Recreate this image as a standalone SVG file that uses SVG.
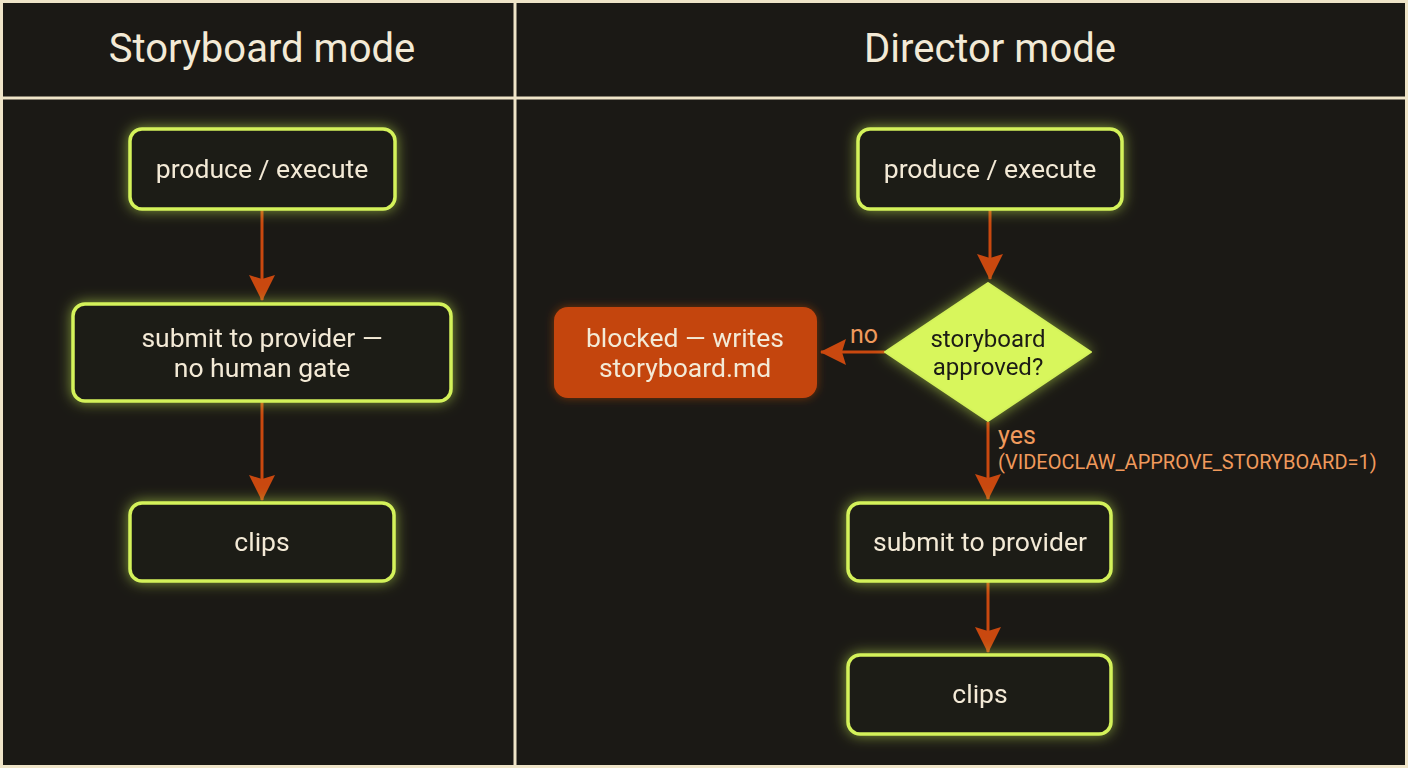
<svg xmlns="http://www.w3.org/2000/svg" width="1408" height="768" viewBox="0 0 1408 768">
<defs>
<filter id="glow" x="-20%" y="-30%" width="140%" height="160%">
<feGaussianBlur in="SourceAlpha" stdDeviation="7" result="b"/>
<feFlood flood-color="#c8f050" flood-opacity="0.6"/>
<feComposite in2="b" operator="in" result="g"/>
<feMerge><feMergeNode in="g"/><feMergeNode in="SourceGraphic"/></feMerge>
</filter>
<filter id="glowO" x="-20%" y="-30%" width="140%" height="160%">
<feGaussianBlur in="SourceAlpha" stdDeviation="5" result="b"/>
<feFlood flood-color="#d05010" flood-opacity="0.5"/>
<feComposite in2="b" operator="in" result="g"/>
<feMerge><feMergeNode in="g"/><feMergeNode in="SourceGraphic"/></feMerge>
</filter>
<marker id="ahb" viewBox="0 0 26 26" refX="25" refY="13" markerWidth="26" markerHeight="26" markerUnits="userSpaceOnUse" orient="auto">
<path d="M0,0 L26,13 L0,26 L4,13 Z" fill="#c9480f"/>
</marker>
<style>
.bg{fill:#1b1915}
.frame{fill:none;stroke:#efe4c8;stroke-width:3}
.hdr{font-family:Roboto,"Liberation Sans",sans-serif;font-size:40px;fill:#f3ead6;text-anchor:middle}
.box{fill:#1f1d19;stroke:#d4f25a;stroke-width:3.5}
.t{font-family:Roboto,"Liberation Sans",sans-serif;font-size:26.5px;fill:#f3ead6;text-anchor:middle}
.td{font-family:Roboto,"Liberation Sans",sans-serif;font-size:24px;fill:#1b1a14;text-anchor:middle}
.edge{stroke:#c9480f;stroke-width:3;fill:none;marker-end:url(#ahb)}
.lbl{font-family:Roboto,"Liberation Sans",sans-serif;fill:#f09a5c}
</style>
</defs>
<rect class="bg" x="0" y="0" width="1408" height="768"/>
<g id="frame">
<rect class="frame" x="1.5" y="1.5" width="1405" height="765"/>
<line class="frame" x1="515" y1="0" x2="515" y2="768"/>
<line class="frame" x1="0" y1="98" x2="1408" y2="98"/>
</g>
<g id="header-left"><text class="hdr" x="262" y="62">Storyboard mode</text></g>
<g id="header-right"><text class="hdr" x="990" y="62">Director mode</text></g>

<g id="connectors">
<path class="edge" d="M262,210 L262,300"/>
<path class="edge" d="M262,402 L262,500"/>
<path class="edge" d="M990,210 L990,279"/>
<path class="edge" d="M885,352 L821,352"/>
<path class="edge" d="M988,422 L988,499"/>
<path class="edge" d="M988,582 L988,652"/>
<text class="lbl" x="864" y="343" font-size="25" text-anchor="middle">no</text>
<text class="lbl" x="998" y="444" font-size="25">yes</text>
<text class="lbl" x="998" y="469" font-size="20">(VIDEOCLAW_APPROVE_STORYBOARD=1)</text>
</g>

<g id="l-produce" filter="url(#glow)">
<rect class="box" x="130" y="129" width="265" height="80" rx="12"/>
<text class="t" x="262" y="178">produce / execute</text>
</g>
<g id="l-submit" filter="url(#glow)">
<rect class="box" x="73" y="304" width="378" height="97" rx="12"/>
<text class="t" x="262" y="347">submit to provider —</text>
<text class="t" x="262" y="377">no human gate</text>
</g>
<g id="l-clips" filter="url(#glow)">
<rect class="box" x="130" y="503" width="264" height="78" rx="12"/>
<text class="t" x="262" y="551">clips</text>
</g>

<g id="r-produce" filter="url(#glow)">
<rect class="box" x="858" y="129" width="264" height="80" rx="12"/>
<text class="t" x="990" y="178">produce / execute</text>
</g>
<g id="r-decision" filter="url(#glow)">
<path d="M988,283 L1091,352 L988,421 L885,352 Z" fill="#d8f65c" stroke="#d4f25a" stroke-width="2" stroke-linejoin="round"/>
<text class="td" x="988" y="347">storyboard</text>
<text class="td" x="988" y="375">approved?</text>
</g>
<g id="r-blocked" filter="url(#glowO)">
<rect x="554" y="307" width="263" height="91" rx="14" fill="#c4440f"/>
<text class="t" x="685" y="347" fill="#fbe9dc">blocked — writes</text>
<text class="t" x="685" y="377" fill="#fbe9dc">storyboard.md</text>
</g>
<g id="r-submit" filter="url(#glow)">
<rect class="box" x="848" y="503" width="263" height="78" rx="12"/>
<text class="t" x="980" y="551">submit to provider</text>
</g>
<g id="r-clips" filter="url(#glow)">
<rect class="box" x="848" y="655" width="263" height="79" rx="12"/>
<text class="t" x="980" y="703">clips</text>
</g>
</svg>
